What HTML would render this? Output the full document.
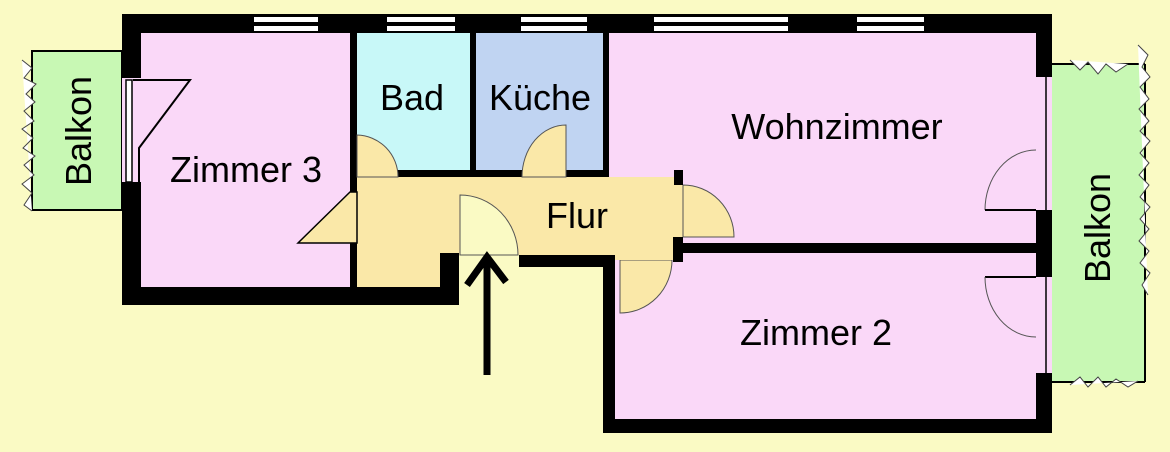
<!DOCTYPE html>
<html><head><meta charset="utf-8"><style>
html,body{margin:0;padding:0;background:#fafac4;}
svg{display:block}
text{font-family:"Liberation Sans",sans-serif;fill:#000}
</style></head><body>
<svg width="1170" height="452" viewBox="0 0 1170 452" xmlns="http://www.w3.org/2000/svg">
<rect width="1170" height="452" fill="#fafac4"/>
<rect x="32" y="51" width="90" height="159" fill="#c8f8b4" stroke="#000" stroke-width="2"/>
<rect x="1052" y="64" width="93" height="318" fill="#c8f8b4"/>
<line x1="1052" y1="64" x2="1145" y2="64" stroke="#000" stroke-width="2"/>
<line x1="1052" y1="382" x2="1145" y2="382" stroke="#000" stroke-width="2"/>
<line x1="1145" y1="64" x2="1145" y2="382" stroke="#000" stroke-width="2"/>
<g stroke="#444" stroke-width="1" fill="#fff">
<path d="M22 60 l10 8 l-8 10 l12 6 l-10 10 l9 8 l-11 9 l10 10 l-12 8 l11 9 l-10 10 l12 8 l-11 9 l10 10 l-12 9 l10 9 l-8 12 l8 6"/>
<path d="M1138 45 l10 10 l-6 12 l8 10 l-10 10 l9 12 l-10 10 l10 12 l-9 10 l10 10 l-10 12 l9 10 l-10 12 l10 10 l-9 12 l10 10 l-10 12 l9 10 l-10 12 l10 10 l-9 12 l10 10 l-8 12 l6 10"/>
<path d="M1070 60 l10 10 l8 -8 l10 12 l8 -10 l10 8 l12 -8"/>
<path d="M1070 385 l10 -8 l8 10 l10 -10 l8 10 l10 -8 l12 8 l10 -6"/>
</g>
<rect x="122" y="14" width="930" height="291" fill="#000"/>
<rect x="603" y="240" width="449" height="193" fill="#000"/>
<rect x="141" y="33" width="209" height="254" fill="#fad8f8"/>
<rect x="357" y="33" width="113" height="137" fill="#c8f8f8"/>
<rect x="476" y="33" width="127" height="137" fill="#c0d4f2"/>
<rect x="609" y="33" width="427" height="210" fill="#fad8f8"/>
<rect x="615" y="253" width="421" height="166" fill="#fad8f8"/>
<path d="M357 177 H676 V185 H683 V237 H673 V255 H459 V253 H440 V287 H357 Z" fill="#fae8a8"/>
<rect x="122" y="305" width="481" height="150" fill="#fafac4"/>
<rect x="459" y="255" width="144" height="200" fill="#fafac4"/>
<rect x="440" y="253" width="19" height="52" fill="#000"/>
<rect x="122" y="287" width="337" height="18" fill="#000"/>
<rect x="519" y="255" width="96" height="12" fill="#000"/>
<rect x="603" y="255" width="12" height="178" fill="#000"/>
<path d="M460 195 A58 60 0 0 1 518 255 L460 255 Z" fill="#fafac4" stroke="#555" stroke-width="1"/>
<path d="M357 177 V135 A42 42 0 0 1 398 177 Z" fill="#fae8a8" stroke="#555" stroke-width="1"/>
<path d="M566 177 V125 A44 52 0 0 0 522 177 Z" fill="#fae8a8" stroke="#555" stroke-width="1"/>
<path d="M683 185 A51 52 0 0 1 734 237 H683 Z" fill="#fae8a8" stroke="#555" stroke-width="1"/>
<path d="M620 260 V313 A52 53 0 0 0 672 260 Z" fill="#fae8a8" stroke="#555" stroke-width="1"/>
<rect x="615" y="237" width="58" height="23" fill="#fae8a8"/>
<rect x="674" y="170" width="9" height="15" fill="#000"/>
<rect x="673" y="237" width="10" height="25" fill="#000"/>
<path d="M350 192 L298 243 H357 V192 Z" fill="#fae8a8" stroke="#000" stroke-width="1.5"/>
<rect x="122" y="78" width="19" height="104" fill="#fad8f8"/>
<rect x="126" y="80" width="6" height="102" fill="#fff" stroke="#000" stroke-width="1.5"/>
<path d="M133 80 H190 L139 148 V182" fill="none" stroke="#000" stroke-width="2"/>
<rect x="1036" y="77" width="16" height="133" fill="#fad8f8"/>
<rect x="1036" y="277" width="16" height="96" fill="#fad8f8"/>
<line x1="1046" y1="77" x2="1046" y2="210" stroke="#000" stroke-width="1.5"/>
<line x1="1046" y1="277" x2="1046" y2="373" stroke="#000" stroke-width="1.5"/>
<path d="M1036 150 A51 60 0 0 0 985 210" fill="none" stroke="#555" stroke-width="1"/>
<path d="M985 210 H1036" stroke="#000" stroke-width="2"/>
<path d="M985 277 H1036" stroke="#000" stroke-width="2"/>
<path d="M985 277 A51 60 0 0 0 1036 337" fill="none" stroke="#555" stroke-width="1"/>
<g fill="#fff">
<rect x="254" y="17" width="64" height="5"/><rect x="254" y="26" width="64" height="5"/>
<rect x="387" y="17" width="68" height="5"/><rect x="387" y="26" width="68" height="5"/>
<rect x="521" y="17" width="66" height="5"/><rect x="521" y="26" width="66" height="5"/>
<rect x="654" y="17" width="134" height="5"/><rect x="654" y="26" width="134" height="5"/>
<rect x="857" y="17" width="67" height="5"/><rect x="857" y="26" width="67" height="5"/>
</g>
<g stroke="#000" stroke-width="7" fill="none">
<line x1="487" y1="375" x2="487" y2="257"/>
<path d="M467 285 L487 257 L506 282"/>
</g>
<g font-size="36" text-anchor="middle">
<text x="412" y="110">Bad</text>
<text x="540" y="110">Küche</text>
<text x="246" y="182">Zimmer 3</text>
<text x="837" y="139">Wohnzimmer</text>
<text x="577" y="228">Flur</text>
<text x="816" y="345">Zimmer 2</text>
<text transform="translate(91 131) rotate(-90)">Balkon</text>
<text transform="translate(1110 228) rotate(-90)">Balkon</text>
</g>
</svg>
</body></html>
